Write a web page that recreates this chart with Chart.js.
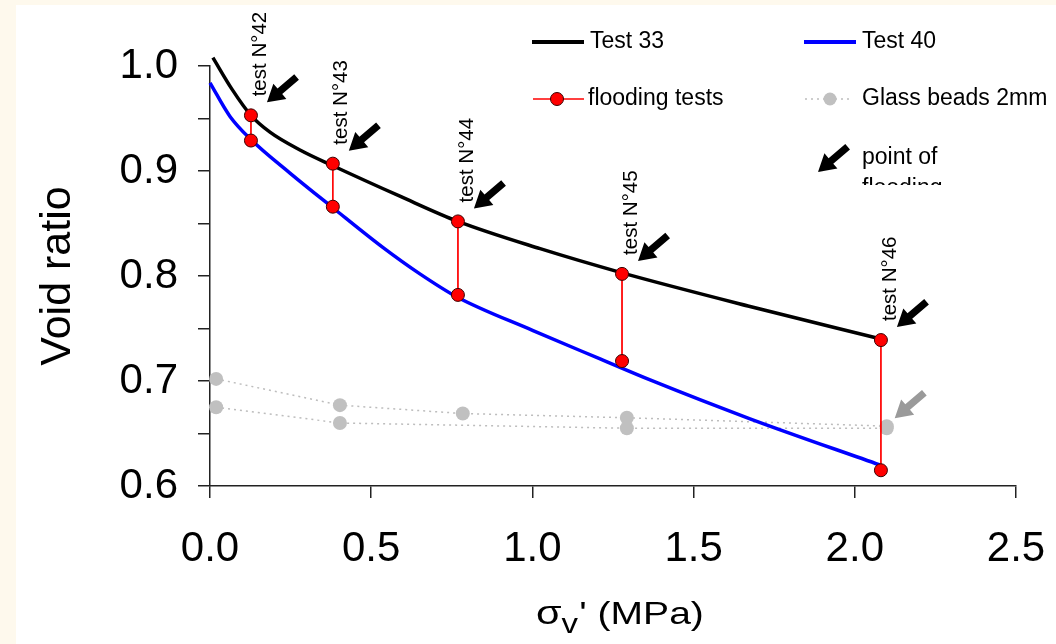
<!DOCTYPE html>
<html>
<head>
<meta charset="utf-8">
<script src="https://cdn.jsdelivr.net/npm/chart.js@4.4.0/dist/chart.umd.min.js"></script>
<style>
  html, body { margin: 0; padding: 0; background: #fef9ed; }
  #wrap { position: absolute; left: 16px; top: 5px; width: 1040px; height: 639px; background: #fff; }
</style>
</head>
<body>
<div id="wrap"><canvas id="chart" width="1040" height="639"></canvas></div>
<script>
// Test 33 (black) and Test 40 (blue) compression curves
const test33Stress = [0.009, 0.068, 0.127, 0.186, 0.279, 0.381, 0.589, 0.769, 1.024, 1.278, 1.675, 2.081];
const test33Void   = [1.008, 0.978, 0.953, 0.937, 0.920, 0.905, 0.876, 0.852, 0.826, 0.803, 0.771, 0.740];
const test40Stress = [0.000, 0.062, 0.127, 0.248, 0.381, 0.537, 0.651, 0.766, 1.002, 1.210, 1.365, 1.675, 2.078];
const test40Void   = [0.984, 0.952, 0.930, 0.898, 0.865, 0.827, 0.802, 0.780, 0.748, 0.721, 0.701, 0.664, 0.620];

// flooding tests: void ratio before (top) and after (bottom) flooding
const floodStress = [0.127, 0.381, 0.769, 1.278, 2.081];
const floodTop    = [0.953, 0.907, 0.852, 0.802, 0.739];
const floodBottom = [0.929, 0.866, 0.782, 0.719, 0.615];
const floodLabels = ['test N°42', 'test N°43', 'test N°44', 'test N°45', 'test N°46'];

// glass beads 2mm (two runs)
const beadsAStress = [0.019, 0.403, 0.784, 1.293, 2.099];
const beadsAVoid   = [0.702, 0.677, 0.669, 0.665, 0.657];
const beadsBStress = [0.019, 0.403, 1.293, 2.099];
const beadsBVoid   = [0.675, 0.660, 0.655, 0.655];

const xTickValues = [0, 0.5, 1.0, 1.5, 2.0, 2.5];
const yTickValues = [0.6, 0.7, 0.8, 0.9, 1.0];

const FONT = '"Liberation Sans", Arial, sans-serif';

function pts(xs, ys) {
    return xs.map((v, i) => ({ x: v, y: ys[i] }));
}

// pairs joined by a red line, a gap between pairs
const floodPoints = [];
floodStress.forEach((s, i) => {
    floodPoints.push({ x: s, y: floodTop[i] }, { x: s, y: floodBottom[i] }, { x: s, y: null });
});

function drawArrow(ctx, tx, ty, color) {
    const ux = 0.76, uy = -0.65;     // from tip towards tail
    const nx = 0.65, ny = 0.76;
    const L = 39, hl = 17, hw = 10, sw = 3.6;
    const p = (a, b) => [tx + ux * a + nx * b, ty + uy * a + ny * b];
    const poly = [p(0, 0), p(hl, hw), p(hl, sw), p(L, sw), p(L, -sw), p(hl, -sw), p(hl, -hw)];
    ctx.beginPath();
    ctx.moveTo(poly[0][0], poly[0][1]);
    poly.slice(1).forEach(q => ctx.lineTo(q[0], q[1]));
    ctx.closePath();
    ctx.fillStyle = color;
    ctx.fill();
}

const overlay = {
    id: 'overlay',
    afterDatasetsDraw(chart) {
        const { ctx, scales: { x, y } } = chart;
        ctx.save();
        floodStress.forEach((s, i) => {
            const px = x.getPixelForValue(s), py = y.getPixelForValue(floodTop[i]);
            ctx.save();
            ctx.translate(px + 9, py - 19);
            ctx.rotate(-Math.PI / 2);
            ctx.font = '20.5px ' + FONT;
            ctx.fillStyle = '#000';
            ctx.textAlign = 'left';
            ctx.textBaseline = 'middle';
            ctx.fillText(floodLabels[i], 0, 0);
            ctx.restore();
            drawArrow(ctx, px + 16, py - 13, '#000');
        });
        const last = beadsAStress.length - 1;
        drawArrow(ctx, x.getPixelForValue(beadsAStress[last]) + 8, y.getPixelForValue(beadsAVoid[last]) - 8, '#9a9a9a');
        ctx.restore();
    },
    afterDraw(chart) {
        const ctx = chart.ctx;
        ctx.save();
        ctx.font = '23px ' + FONT;
        ctx.fillStyle = '#000';
        ctx.textAlign = 'left';
        ctx.textBaseline = 'middle';

        // legend row 1
        ctx.lineWidth = 4;
        ctx.strokeStyle = '#000';
        ctx.beginPath(); ctx.moveTo(516, 37); ctx.lineTo(568, 37); ctx.stroke();
        ctx.fillText('Test 33', 574, 37);
        ctx.strokeStyle = '#0000ff';
        ctx.beginPath(); ctx.moveTo(788, 37); ctx.lineTo(840, 37); ctx.stroke();
        ctx.fillText('Test 40', 846, 37);

        // legend row 2
        ctx.lineWidth = 1.5;
        ctx.strokeStyle = '#ff0000';
        ctx.beginPath(); ctx.moveTo(517, 94); ctx.lineTo(568, 94); ctx.stroke();
        ctx.beginPath(); ctx.arc(541, 94, 6.5, 0, Math.PI * 2);
        ctx.fillStyle = '#ff0000'; ctx.fill();
        ctx.lineWidth = 1; ctx.strokeStyle = '#3a0000'; ctx.stroke();
        ctx.fillStyle = '#000';
        ctx.fillText('flooding tests', 572, 94);

        ctx.setLineDash([2, 4]);
        ctx.lineWidth = 1.5;
        ctx.strokeStyle = '#bdbdbd';
        ctx.beginPath(); ctx.moveTo(789, 94); ctx.lineTo(834, 94); ctx.stroke();
        ctx.setLineDash([]);
        ctx.beginPath(); ctx.arc(814, 94, 6.5, 0, Math.PI * 2);
        ctx.fillStyle = '#c0c0c0'; ctx.fill();
        ctx.fillStyle = '#000';
        ctx.fillText('Glass beads 2mm', 846, 94);

        // legend row 3, text cut off as in the original
        drawArrow(ctx, 802, 167, '#000');
        ctx.fillStyle = '#000';
        ctx.textBaseline = 'alphabetic';
        ctx.fillText('point of', 846, 159);
        ctx.save();
        ctx.beginPath(); ctx.rect(840, 165, 200, 15); ctx.clip();
        ctx.fillText('flooding', 846, 190);
        ctx.restore();

        // x axis title with subscript
        ctx.save();
        ctx.translate(520, 619);
        ctx.scale(1.22, 1);
        ctx.textAlign = 'left';
        ctx.textBaseline = 'alphabetic';
        let cx = 0;
        ctx.font = '34px ' + FONT;
        ctx.fillText('σ', cx, 0); cx += ctx.measureText('σ').width;
        ctx.font = '27px ' + FONT;
        ctx.fillText('v', cx, 9); cx += ctx.measureText('v').width;
        ctx.font = '32px ' + FONT;
        ctx.fillText("' (MPa)", cx + 1, 0);
        ctx.restore();

        ctx.restore();
    }
};

const ctx = document.getElementById('chart').getContext('2d');
new Chart(ctx, {
    type: 'line',
    data: {
        datasets: [
            {
                label: 'flooding tests',
                data: floodPoints,
                borderColor: '#ff0000',
                borderWidth: 1,
                pointRadius: 6.5,
                pointBackgroundColor: '#ff0000',
                pointBorderColor: '#3a0000',
                pointBorderWidth: 1,
                spanGaps: false,
                clip: false
            },
            {
                label: 'Test 33',
                data: pts(test33Stress, test33Void),
                borderColor: '#000000',
                borderWidth: 3.5,
                pointRadius: 0,
                cubicInterpolationMode: 'monotone',
                clip: false
            },
            {
                label: 'Test 40',
                data: pts(test40Stress, test40Void),
                borderColor: '#0000ff',
                borderWidth: 3.5,
                pointRadius: 0,
                cubicInterpolationMode: 'monotone',
                clip: false
            },
            {
                label: 'Glass beads 2mm',
                data: pts(beadsAStress, beadsAVoid),
                borderColor: '#bdbdbd',
                borderWidth: 1.5,
                borderDash: [2, 4],
                pointRadius: 7,
                pointBackgroundColor: '#c0c0c0',
                pointBorderWidth: 0,
                clip: false
            },
            {
                label: 'Glass beads 2mm (b)',
                data: pts(beadsBStress, beadsBVoid),
                borderColor: '#bdbdbd',
                borderWidth: 1.5,
                borderDash: [2, 4],
                pointRadius: 7,
                pointBackgroundColor: '#c0c0c0',
                pointBorderWidth: 0,
                clip: false
            }
        ]
    },
    options: {
        responsive: false,
        animation: false,
        layout: { padding: { left: 0, top: 61, right: 40, bottom: 0 } },
        plugins: { legend: { display: false }, tooltip: { enabled: false } },
        scales: {
            x: {
                type: 'linear',
                min: 0,
                max: 2.5,
                afterBuildTicks: (scale) => { scale.ticks = xTickValues.map(v => ({ value: v })); },
                afterFit: (scale) => {
                    scale.height = 158;
                    scale.paddingLeft = 0;
                    scale.paddingRight = 0;
                },
                ticks: {
                    color: '#000',
                    font: { family: FONT, size: 42 },
                    padding: 26,
                    maxRotation: 0,
                    autoSkip: false,
                    callback: (v) => v.toFixed(1)
                },
                grid: { drawOnChartArea: false, drawTicks: true, tickLength: 12, color: '#222', lineWidth: 1.5 },
                border: { display: true, color: '#222', width: 1.5 }
            },
            y: {
                type: 'linear',
                min: 0.6,
                max: 1.0,
                afterBuildTicks: (scale) => {
                    const t = [];
                    yTickValues.forEach((v, i) => {
                        t.push({ value: v });
                        if (i < yTickValues.length - 1) t.push({ value: v + 0.05 });
                    });
                    scale.ticks = t;
                },
                afterFit: (scale) => {
                    scale.width = 194;
                    scale.paddingTop = 0;
                    scale.paddingBottom = 0;
                },
                ticks: {
                    color: '#000',
                    font: { family: FONT, size: 42 },
                    padding: 20,
                    autoSkip: false,
                    callback: (v) => yTickValues.some(t => Math.abs(t - v) < 1e-6) ? v.toFixed(1) : ''
                },
                title: {
                    display: true,
                    text: 'Void ratio',
                    color: '#000',
                    font: { family: FONT, size: 43 },
                    padding: { top: 16, bottom: 0 }
                },
                grid: { drawOnChartArea: false, drawTicks: true, tickLength: 12, color: '#222', lineWidth: 1.5 },
                border: { display: true, color: '#222', width: 1.5 }
            }
        }
    },
    plugins: [overlay]
});
</script>
</body>
</html>
